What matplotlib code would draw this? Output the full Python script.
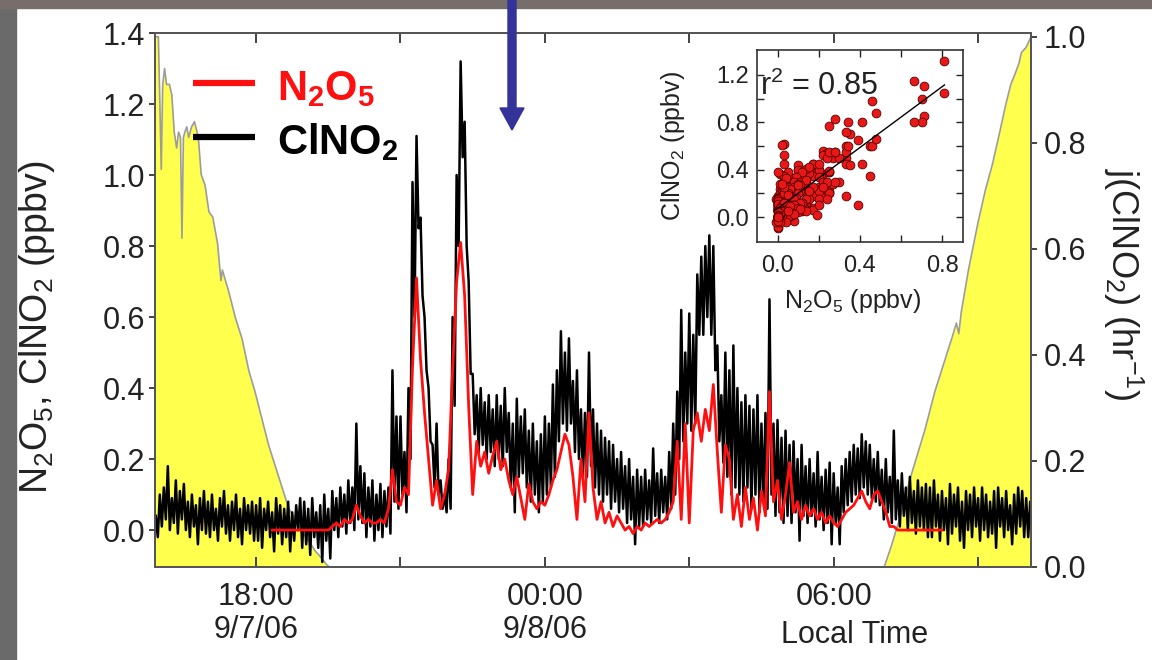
import numpy as np
import matplotlib
matplotlib.use('Agg')
import matplotlib.pyplot as plt
from matplotlib.patches import Rectangle, Polygon

plt.rcParams['font.family'] = ['Liberation Sans', 'DejaVu Sans']
plt.rcParams['mathtext.fontset'] = 'custom'
plt.rcParams['mathtext.rm'] = 'Liberation Sans'
plt.rcParams['mathtext.it'] = 'Liberation Sans:italic'
plt.rcParams['mathtext.bf'] = 'Liberation Sans:bold'

# time in hours after midnight of 9/7/06, 5 minute windows
step_hr = 5 / 60
clno2_start = 15 + 55 / 60
n2o5_start = 18 + 20 / 60

# ClNO2 (ppbv): high and low reading in each 5 min window, 15:55 -> 10:05
clno2_hi = [
    0.04,
    0.10, 0.12, 0.18, 0.09, 0.14, 0.11, 0.13, 0.08, 0.10, 0.07, 0.09, 0.11,   # 16h
    0.08, 0.10, 0.06, 0.09, 0.11, 0.07, 0.08, 0.10, 0.06, 0.09, 0.07, 0.08,   # 17h
    0.07, 0.09, 0.06, 0.08, 0.05, 0.09, 0.07, 0.06, 0.08, 0.05, 0.07, 0.09,   # 18h
    0.08, 0.06, 0.09, 0.05, 0.07, 0.10, 0.06, 0.11, 0.09, 0.12, 0.10, 0.14,   # 19h
    0.12, 0.30, 0.18, 0.16, 0.12, 0.14, 0.10, 0.13, 0.11, 0.12, 0.45, 0.32,   # 20h
    0.32, 0.22, 0.40, 0.98, 1.11, 0.88, 0.60, 0.40, 0.24, 0.30, 0.14, 0.10,   # 21h
    0.20, 0.60, 1.00, 1.32, 1.15, 0.70, 0.44, 0.38, 0.40, 0.36, 0.38, 0.34,   # 22h
    0.38, 0.35, 0.40, 0.33, 0.30, 0.37, 0.32, 0.34, 0.28, 0.30, 0.25, 0.27,   # 23h
    0.32, 0.30, 0.41, 0.45, 0.56, 0.50, 0.54, 0.42, 0.45, 0.34, 0.33, 0.50,   # 00h
    0.34, 0.30, 0.28, 0.26, 0.25, 0.24, 0.20, 0.22, 0.18, 0.20, 0.15, 0.17,   # 01h
    0.15, 0.17, 0.14, 0.23, 0.16, 0.17, 0.15, 0.22, 0.30, 0.39, 0.62, 0.50,   # 02h
    0.61, 0.55, 0.72, 0.77, 0.80, 0.83, 0.80, 0.52, 0.38, 0.50, 0.45, 0.52,   # 03h
    0.40, 0.36, 0.38, 0.35, 0.34, 0.38, 0.30, 0.33, 0.65, 0.30, 0.31, 0.26,   # 04h
    0.28, 0.24, 0.25, 0.20, 0.24, 0.18, 0.20, 0.16, 0.22, 0.15, 0.17, 0.19,   # 05h
    0.16, 0.12, 0.18, 0.20, 0.22, 0.24, 0.23, 0.27, 0.25, 0.24, 0.20, 0.22,   # 06h
    0.17, 0.20, 0.15, 0.28, 0.14, 0.16, 0.12, 0.15, 0.11, 0.14, 0.12, 0.13,   # 07h
    0.12, 0.14, 0.10, 0.11, 0.09, 0.13, 0.10, 0.12, 0.08, 0.11, 0.10, 0.12,   # 08h
    0.09, 0.12, 0.10, 0.08, 0.11, 0.12, 0.09, 0.11, 0.07, 0.10, 0.12, 0.11,   # 09h
    0.09, 0.08,
]
clno2_lo = [
    -0.02,
    0.01, 0.03, 0.00, 0.02, -0.01, 0.03, 0.00, -0.02, 0.01, -0.04, 0.00, -0.01,     # 16h
    -0.02, 0.00, -0.03, 0.01, -0.01, -0.03, 0.00, -0.02, -0.04, 0.00, -0.01, -0.03, # 17h
    -0.03, -0.05, 0.00, -0.02, -0.06, -0.01, -0.04, -0.02, -0.06, -0.03, 0.00, -0.05, # 18h
    -0.04, -0.07, -0.02, -0.05, -0.09, -0.03, -0.08, 0.00, -0.02, 0.01, -0.01, 0.02, # 19h
    0.00, 0.03, 0.02, -0.02, 0.01, -0.03, 0.00, -0.02, 0.01, -0.01, 0.08, 0.06,     # 20h
    0.10, 0.05, 0.20, 0.60, 0.85, 0.66, 0.45, 0.25, 0.12, 0.10, 0.06, 0.05,         # 21h
    0.06, 0.35, 0.80, 1.05, 0.80, 0.44, 0.27, 0.22, 0.24, 0.20, 0.22, 0.18,         # 22h
    0.20, 0.18, 0.22, 0.12, 0.05, 0.15, 0.16, 0.12, 0.08, 0.10, 0.05, 0.08,         # 23h
    0.10, 0.12, 0.15, 0.25, 0.30, 0.28, 0.30, 0.22, 0.20, 0.15, 0.15, 0.18,         # 00h
    0.12, 0.10, 0.08, 0.10, 0.06, 0.08, 0.05, 0.06, 0.02, 0.03, -0.04, 0.01,        # 01h
    0.01, 0.03, 0.02, 0.04, 0.02, 0.05, 0.03, 0.06, 0.10, 0.20, 0.25, 0.30,         # 02h
    0.28, 0.30, 0.55, 0.55, 0.60, 0.55, 0.45, 0.25, 0.19, 0.15, 0.10, 0.12,         # 03h
    0.10, 0.08, 0.12, 0.06, 0.10, 0.05, 0.08, 0.06, 0.10, 0.04, 0.05, 0.02,         # 04h
    0.04, 0.02, 0.05, -0.03, 0.04, 0.02, 0.04, 0.01, 0.03, 0.00, 0.02, -0.04,       # 05h
    0.02, -0.04, 0.05, 0.07, 0.08, 0.10, 0.09, 0.12, 0.10, 0.09, 0.08, 0.07,        # 06h
    0.03, 0.05, 0.02, 0.03, 0.01, 0.04, 0.00, 0.02, -0.01, 0.01, 0.00, -0.02,       # 07h
    -0.02, 0.01, -0.03, 0.00, -0.04, -0.01, 0.01, -0.03, -0.05, 0.00, -0.02, 0.01,  # 08h
    -0.03, 0.00, -0.02, -0.01, -0.05, 0.01, -0.02, 0.00, -0.04, -0.01, 0.01, -0.02, # 09h
    -0.02, 0.00,
]

# N2O5 (ppbv), 18:20 -> 08:15
n2o5 = [
    0.00, 0.00, 0.00, 0.00, 0.00, 0.00, 0.00, 0.00,                           # 18h
    0.00, 0.00, 0.00, 0.00, 0.00, 0.00, 0.00, 0.01, 0.02, 0.01, 0.03, 0.02,   # 19h
    0.03, 0.07, 0.04, 0.02, 0.03, 0.02, 0.02, 0.03, 0.02, 0.06, 0.17, 0.08,   # 20h
    0.07, 0.12, 0.10, 0.46, 0.71, 0.48, 0.33, 0.20, 0.07, 0.14, 0.06, 0.10,   # 21h
    0.17, 0.45, 0.70, 0.81, 0.66, 0.35, 0.10, 0.25, 0.18, 0.22, 0.16, 0.21,   # 22h
    0.25, 0.17, 0.20, 0.14, 0.10, 0.15, 0.09, 0.03, 0.13, 0.08, 0.06, 0.08,   # 23h
    0.07, 0.10, 0.14, 0.17, 0.22, 0.27, 0.24, 0.15, 0.03, 0.20, 0.08, 0.33,   # 00h
    0.12, 0.03, 0.08, 0.02, 0.05, 0.01, 0.04, 0.02, 0.00, 0.01, -0.01, 0.01,  # 01h
    0.00, 0.02, 0.01, 0.02, 0.03, 0.02, 0.03, 0.05, 0.08, 0.25, 0.03, 0.30,   # 02h
    0.02, 0.28, 0.33, 0.25, 0.34, 0.28, 0.41, 0.22, 0.05, 0.24, 0.20, 0.03,   # 03h
    0.10, 0.01, 0.12, 0.03, 0.09, 0.00, 0.11, 0.04, 0.39, 0.08, 0.14, 0.03,   # 04h
    0.10, 0.19, 0.05, 0.08, 0.03, 0.07, 0.04, 0.06, 0.03, 0.05, 0.02, 0.04,   # 05h
    0.02, 0.01, 0.03, 0.05, 0.06, 0.07, 0.09, 0.11, 0.08, 0.06, 0.10, 0.11,   # 06h
    0.08, 0.05, 0.01, 0.01, 0.00, 0.00, 0.00, 0.00, 0.00, 0.00, 0.00, 0.00,   # 07h
    0.00, 0.00, 0.00, 0.00,                                                   # 08h
]

# j(ClNO2) (1/hr), evening decay and morning rise
j_eve_hr = [15.90, 15.97, 16.00, 16.03, 16.06, 16.10, 16.14, 16.20, 16.25, 16.30,
            16.35, 16.39, 16.43, 16.46, 16.49, 16.52, 16.56, 16.60, 16.66, 16.72,
            16.80, 16.86, 16.94, 17.02, 17.10, 17.20, 17.27, 17.30, 17.43, 17.57,
            17.71, 17.85, 17.98, 18.12, 18.26, 18.40, 18.54, 18.68, 18.82, 18.96,
            19.09, 19.23, 19.37, 19.45, 19.52]
j_eve = [1.00, 1.00, 0.88, 0.75, 0.91, 0.94, 0.91, 0.91, 0.89, 0.82,
         0.79, 0.82, 0.81, 0.62, 0.81, 0.82, 0.83, 0.81, 0.83, 0.84,
         0.81, 0.74, 0.72, 0.67, 0.66, 0.61, 0.54, 0.56, 0.52, 0.47,
         0.43, 0.37, 0.33, 0.28, 0.23, 0.19, 0.15, 0.11, 0.09, 0.065,
         0.05, 0.03, 0.016, 0.006, 0.0]
j_morn_hr = [31.05, 31.20, 31.40, 31.60, 31.90, 32.10, 32.31, 32.45, 32.55, 32.60,
             32.65, 32.80, 33.00, 33.15, 33.30, 33.45, 33.57, 33.68, 33.77, 33.85,
             33.90, 34.00, 34.10]
j_morn = [0.0, 0.04, 0.10, 0.17, 0.26, 0.33, 0.39, 0.43, 0.46, 0.44,
          0.48, 0.56, 0.65, 0.71, 0.76, 0.82, 0.87, 0.91, 0.93, 0.95,
          0.97, 0.98, 1.00]

x_ticks = [18, 21, 24, 27, 30, 33]
x_ticklabels = ['18:00\n9/7/06', '', '00:00\n9/8/06', '', '06:00', '']

# hi reading at the start of each window, lo reading half a window later
t_win = clno2_start + step_hr * np.arange(len(clno2_hi))
t_cl = np.column_stack([t_win, t_win + step_hr / 2]).ravel()
v_cl = np.column_stack([clno2_hi, clno2_lo]).ravel()
t_n2 = n2o5_start + step_hr * np.arange(len(n2o5))

W, H = 1152, 660
fig = plt.figure(figsize=(W / 100, H / 100), dpi=100, facecolor='white')
tc = '#222222'

# slide background strips
fig.patches.append(Rectangle((0, 0), 16 / W, 1, transform=fig.transFigure,
                             color='#6a6a6a', zorder=0))
fig.patches.append(Rectangle((0, 1 - 8 / H), 1, 8 / H, transform=fig.transFigure,
                             color='#776d6b', zorder=0))

ax = fig.add_axes([155 / W, 1 - 567 / H, 876 / W, 534 / H])
ax2 = ax.twinx()
ax.set_zorder(ax2.get_zorder() + 1)
ax.patch.set_visible(False)

yellow = '#ffff4d'
for th, jv in [(j_eve_hr, j_eve), (j_morn_hr, j_morn)]:
    ax2.fill_between(th, 0, jv, color=yellow, lw=0)
    ax2.plot(th, jv, color='#9c9c9c', lw=1.2)
ax2.set_ylim(0, 1.007)
ax2.set_yticks([0, 0.2, 0.4, 0.6, 0.8, 1.0])
ax2.set_yticklabels(['0.0', '0.2', '0.4', '0.6', '0.8', '1.0'])
ax2.tick_params(axis='y', direction='out', length=4, width=1.2, pad=5,
                labelsize=22, colors=tc)
ax2.set_ylabel(r'j(ClNO$_2$) (hr$^{-1}$)', fontsize=26, rotation=270, color=tc)
ax2.yaxis.set_label_coords(1.13, 0.53)

ax.plot(t_cl, v_cl, color='black', lw=1.8)
ax.plot(t_n2, n2o5, color='#ff1010', lw=2.0)

ax.set_xlim(15.9, 34.1)
ax.set_ylim(-0.104, 1.4)
ax.set_yticks(np.arange(0, 1.41, 0.2))
ax.set_yticklabels(['%.1f' % v for v in np.arange(0, 1.41, 0.2)])
ax.set_xticks(x_ticks)
ax.set_xticklabels(x_ticklabels, linespacing=1.1)
ax.tick_params(axis='x', direction='in', top=True, length=7, width=1.2,
               pad=11, labelsize=22, colors=tc)
ax.tick_params(axis='y', direction='out', length=4, width=1.2, pad=3,
               labelsize=22, colors=tc)
for a in (ax, ax2):
    for s in a.spines.values():
        s.set_color('#555555')
        s.set_linewidth(1.3)

ax.set_ylabel(r'N$_2$O$_5$, ClNO$_2$ (ppbv)', fontsize=27, color=tc)
ax.yaxis.set_label_coords(-0.112, 0.448)
ax.text(30.43, -0.128, 'Local Time', transform=ax.get_xaxis_transform(),
        ha='center', va='center', fontsize=22, color=tc)

# legend
ax.plot([0.0434, 0.114], [0.906, 0.906], transform=ax.transAxes,
        color='#ff1010', lw=4.5, solid_capstyle='butt')
ax.plot([0.0434, 0.114], [0.805, 0.805], transform=ax.transAxes,
        color='black', lw=4.5, solid_capstyle='butt')
ax.text(0.139, 0.895, r'$\mathbf{N_2O_5}$', transform=ax.transAxes,
        ha='left', va='center', fontsize=30, color='#ff1010')
ax.text(0.139, 0.795, r'$\mathbf{ClNO_2}$', transform=ax.transAxes,
        ha='left', va='center', fontsize=30, color='black')

# inset: N2O5 against both ClNO2 readings of the same window
i0 = int(round((n2o5_start - clno2_start) / step_hr))
n = len(n2o5)
xs = np.concatenate([n2o5, n2o5])
ys = np.concatenate([clno2_hi[i0:i0 + n], clno2_lo[i0:i0 + n]])
axi = fig.add_axes([757 / W, 1 - 242 / H, 206 / W, 192 / H], zorder=3)
axi.scatter(xs, ys, s=40, c='#e81818', edgecolors='#5a0000', linewidths=0.6,
            zorder=2)
k, b = np.polyfit(xs, ys, 1)
xl = np.array([xs.min(), xs.max()])
axi.plot(xl, k * xl + b, color='black', lw=1.0, zorder=3)
axi.set_xlim(-0.1, 0.9)
axi.set_ylim(-0.21, 1.41)
axi.set_xticks([0, 0.2, 0.4, 0.6, 0.8])
axi.set_xticklabels(['0.0', '', '0.4', '', '0.8'])
axi.set_yticks([0, 0.2, 0.4, 0.6, 0.8, 1.0, 1.2])
axi.set_yticklabels(['0.0', '', '0.4', '', '0.8', '', '1.2'])
axi.tick_params(direction='in', top=True, right=True, length=5, width=1.0,
                labelsize=17, colors=tc)
axi.tick_params(axis='x', pad=9)
axi.tick_params(axis='y', pad=6)
for s in axi.spines.values():
    s.set_color('#333333')
    s.set_linewidth(1.2)
axi.set_xlabel(r'N$_2$O$_5$ (ppbv)', fontsize=18, color=tc)
axi.xaxis.set_label_coords(0.466, -0.234)
axi.set_ylabel(r'ClNO$_2$ (ppbv)', fontsize=18, color=tc)
axi.yaxis.set_label_coords(-0.34, 0.5)
axi.text(0.015, 0.81, r'r$^2$ = 0.85', transform=axi.transAxes, ha='left',
         va='center', fontsize=22, color=tc)

# blue arrow at top
arrow_px = [(508, 0), (516, 0), (516, 108), (524, 108), (512, 130), (500, 108), (508, 108)]
fig.patches.append(Polygon([(x / W, 1 - y / H) for x, y in arrow_px],
                           closed=True, transform=fig.transFigure,
                           color='#333399', zorder=10))

fig.savefig('out.png', dpi=100)
